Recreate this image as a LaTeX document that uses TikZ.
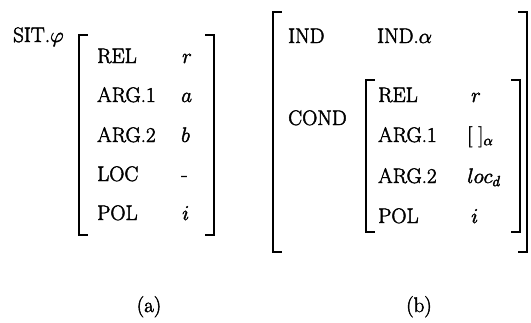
\RequirePackage{fix-cm}
\documentclass[tikz,border=0pt]{standalone}
\newcommand{\heavy}[1]{\special{pdf:code 2 Tr 0.45 w}#1\special{pdf:code 0 Tr}}
\begin{document}
\begin{tikzpicture}[x=1pt,y=-1pt,
  lab/.style={anchor=base west, inner sep=0pt, font=\fontsize{21}{25}\selectfont},
  captext/.style={anchor=base, inner sep=0pt, font=\fontsize{21}{25}\selectfont},
  brk/.style={line width=2.8pt, line cap=rect}]
\useasboundingbox (0,0) rectangle (531,322);
% (a)
\node[lab] (sit) at (13,42) {\heavy{SIT.$\varphi$}};
\draw[brk] (87,35) -- (79,35) -- (79,235) -- (87,235);
\draw[brk] (206,35) -- (214,35) -- (214,235) -- (206,235);
\node[lab] (arel) at (97,63) {\heavy{REL}};
\node[lab] (aarg1) at (97,102) {\heavy{ARG.1}};
\node[lab] (aarg2) at (97,142) {\heavy{ARG.2}};
\node[lab] (aloc) at (97,181) {\heavy{LOC}};
\node[lab] (apol) at (97,220) {\heavy{POL}};
\node[lab] (vr) at (182,63) {\heavy{$r$}};
\node[lab] (va) at (181,102) {\heavy{$a$}};
\node[lab] (vb) at (181,142) {\heavy{$b$}};
\node[lab] (vl) at (181,181) {\heavy{-}};
\node[lab] (vi) at (182,220) {\heavy{$i$}};
% (b)
\draw[brk] (281,12) -- (273,12) -- (273,252) -- (281,252);
\draw[brk] (519,12) -- (527,12) -- (527,252) -- (519,252);
\node[lab] (ind) at (288,43) {\heavy{IND}};
\node[lab] (inda) at (377,43) {\heavy{IND.$\alpha$}};
\node[lab] (cond) at (288,125) {\heavy{COND}};
\draw[brk] (374,80) -- (366,80) -- (366,232) -- (374,232);
\draw[brk] (512,80) -- (520,80) -- (520,232) -- (512,232);
\node[lab] (brel) at (378,102) {\heavy{REL}};
\node[lab] (barg1) at (378,142) {\heavy{ARG.1}};
\node[lab] (barg2) at (378,183) {\heavy{ARG.2}};
\node[lab] (bpol) at (378,223) {\heavy{POL}};
\node[lab] (wr) at (471,102) {\heavy{$r$}};
\node[lab] (wa) at (467,142) {\heavy{$[\;]_\alpha$}};
\node[lab] (wl) at (467,183) {\heavy{$loc_d$}};
\node[lab] (wi) at (471,223) {\heavy{$i$}};
% captions
\node[captext] (capa) at (149,312) {\heavy{(a)}};
\node[captext] (capb) at (419,312) {\heavy{(b)}};
\end{tikzpicture}
\end{document}
